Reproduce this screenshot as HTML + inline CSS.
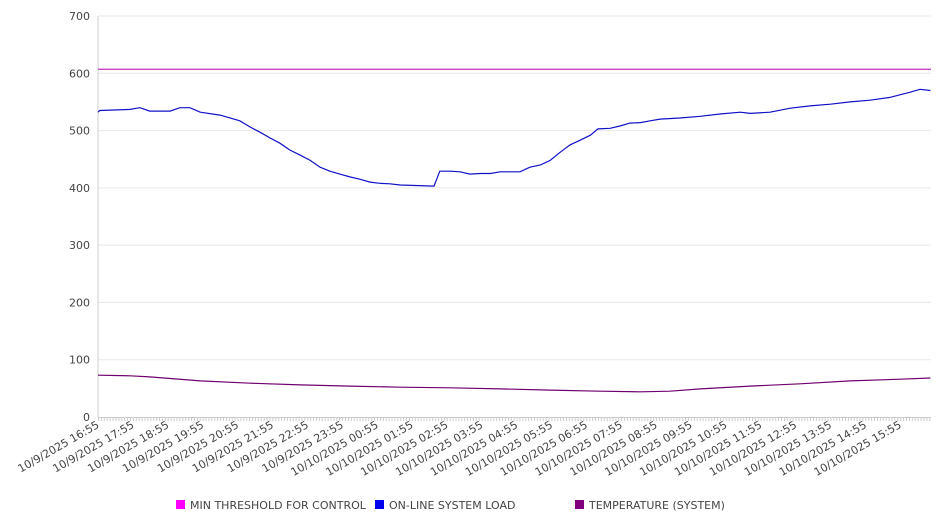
<!DOCTYPE html>
<html><head><meta charset="utf-8"><style>
body{margin:0;background:#fff;font-family:"DejaVu Sans","Liberation Sans",sans-serif;}
svg text{font-family:"DejaVu Sans","Liberation Sans",sans-serif;font-size:11px;fill:#444;}
</style></head><body>
<svg id="chart" width="946" height="526" xmlns="http://www.w3.org/2000/svg"></svg>
<script>
const yTicks=[0,100,200,300,400,500,600,700];
const xTickLabels=["10/9/2025 16:55","10/9/2025 17:55","10/9/2025 18:55","10/9/2025 19:55","10/9/2025 20:55","10/9/2025 21:55","10/9/2025 22:55","10/9/2025 23:55","10/10/2025 00:55","10/10/2025 01:55","10/10/2025 02:55","10/10/2025 03:55","10/10/2025 04:55","10/10/2025 05:55","10/10/2025 06:55","10/10/2025 07:55","10/10/2025 08:55","10/10/2025 09:55","10/10/2025 10:55","10/10/2025 11:55","10/10/2025 12:55","10/10/2025 13:55","10/10/2025 14:55","10/10/2025 15:55"];
const thresholdValue=607;
const loadMinutes=[0,3,55,72,89,124,141,158,176,210,244,262,279,296,313,330,348,365,382,399,416,434,451,468,485,502,520,578,588,606,623,640,657,675,692,709,726,743,761,778,795,812,829,847,860,881,898,915,933,950,967,1001,1036,1070,1105,1122,1156,1191,1225,1260,1294,1328,1363,1397,1414,1432];
const loadValues=[532,535,537,540,534,534,540,540,532,527,517,506,497,487,478,466,457,448,436,429,424,419,415,410,408,407,405,403,429,429,428,424,425,425,428,428,428,436,440,448,462,475,483,492,503,504,508,513,514,517,520,522,525,529,532,530,532,539,543,546,550,553,558,567,572,570];
const tempMinutes=[0,55,89,176,262,348,434,520,606,692,778,864,933,984,1036,1122,1208,1294,1380,1432];
const tempValues=[73,72,70,63,59,56,54,52,51,49,47,45,44,45,49,54,58,63,66,68];
const maxMinutes=1433;

const svg=document.getElementById('chart');
const NS='http://www.w3.org/2000/svg';
const X0=98,X1=931,Y0=417,Y1=16;
const px=m=>X0+(m/maxMinutes)*(X1-X0);
const py=v=>Y0-(v/700)*(Y0-Y1);
function mk(tag,attrs,parent){const e=document.createElementNS(NS,tag);for(const k in attrs)e.setAttribute(k,attrs[k]);(parent||svg).appendChild(e);return e;}

const grid=mk('g',{});


yTicks.forEach(v=>{
  if(v>0){const l=mk('line',{x1:X0,x2:X1,y1:py(v),y2:py(v),stroke:'#e8e8e8','stroke-width':1},grid);
  
  }
  const t=mk('text',{x:90,y:py(v)+4,'text-anchor':'end'});
  t.textContent=v;
  
  
});
const ya=mk('line',{x1:X0,x2:X0,y1:Y1,y2:Y0,stroke:'#ccc','stroke-width':1});


const xa=mk('line',{x1:X0,x2:X1,y1:Y0+0.5,y2:Y0+0.5,stroke:'#ccc','stroke-width':1});


const ticks=mk('g',{});


for(let m=0;m<=maxMinutes;m+=5){mk('line',{x1:px(m)+0.5,x2:px(m)+0.5,y1:Y0,y2:Y0+4,stroke:'#ccc','stroke-width':1},ticks);}
xTickLabels.forEach((s,i)=>{
  const x=px(i*60)+2,y=Y0+10;
  const t=mk('text',{x:x,y:y,'text-anchor':'end',transform:`rotate(-30 ${x} ${y})`});
  t.textContent=s;
  
  
});
const th=mk('line',{x1:X0,x2:X1,y1:py(thresholdValue),y2:py(thresholdValue),stroke:'#c030c0','stroke-width':1.2});


function line(ms,vs,color,name){
  const d=ms.map((m,i)=>(i?'L':'M')+px(m).toFixed(1)+' '+py(vs[i]).toFixed(1)).join(' ');
  const p=mk('path',{d:d,fill:'none',stroke:color,'stroke-width':1.2});
  
  
}
line(loadMinutes,loadValues,'#1010c8','system-load-line');
line(tempMinutes,tempValues,'#700070','temperature-line');

const legend=[["MIN THRESHOLD FOR CONTROL","#ff00ff",176],["ON-LINE SYSTEM LOAD","#0000ee",375],["TEMPERATURE (SYSTEM)","#800080",575]];
legend.forEach(([label,c,x])=>{
  const g=mk('g',{});
  
  
  mk('rect',{x:x,y:500,width:9,height:9,fill:c},g);
  const t=mk('text',{x:x+14,y:509},g);
  t.textContent=label;
});
</script>
</body></html>
